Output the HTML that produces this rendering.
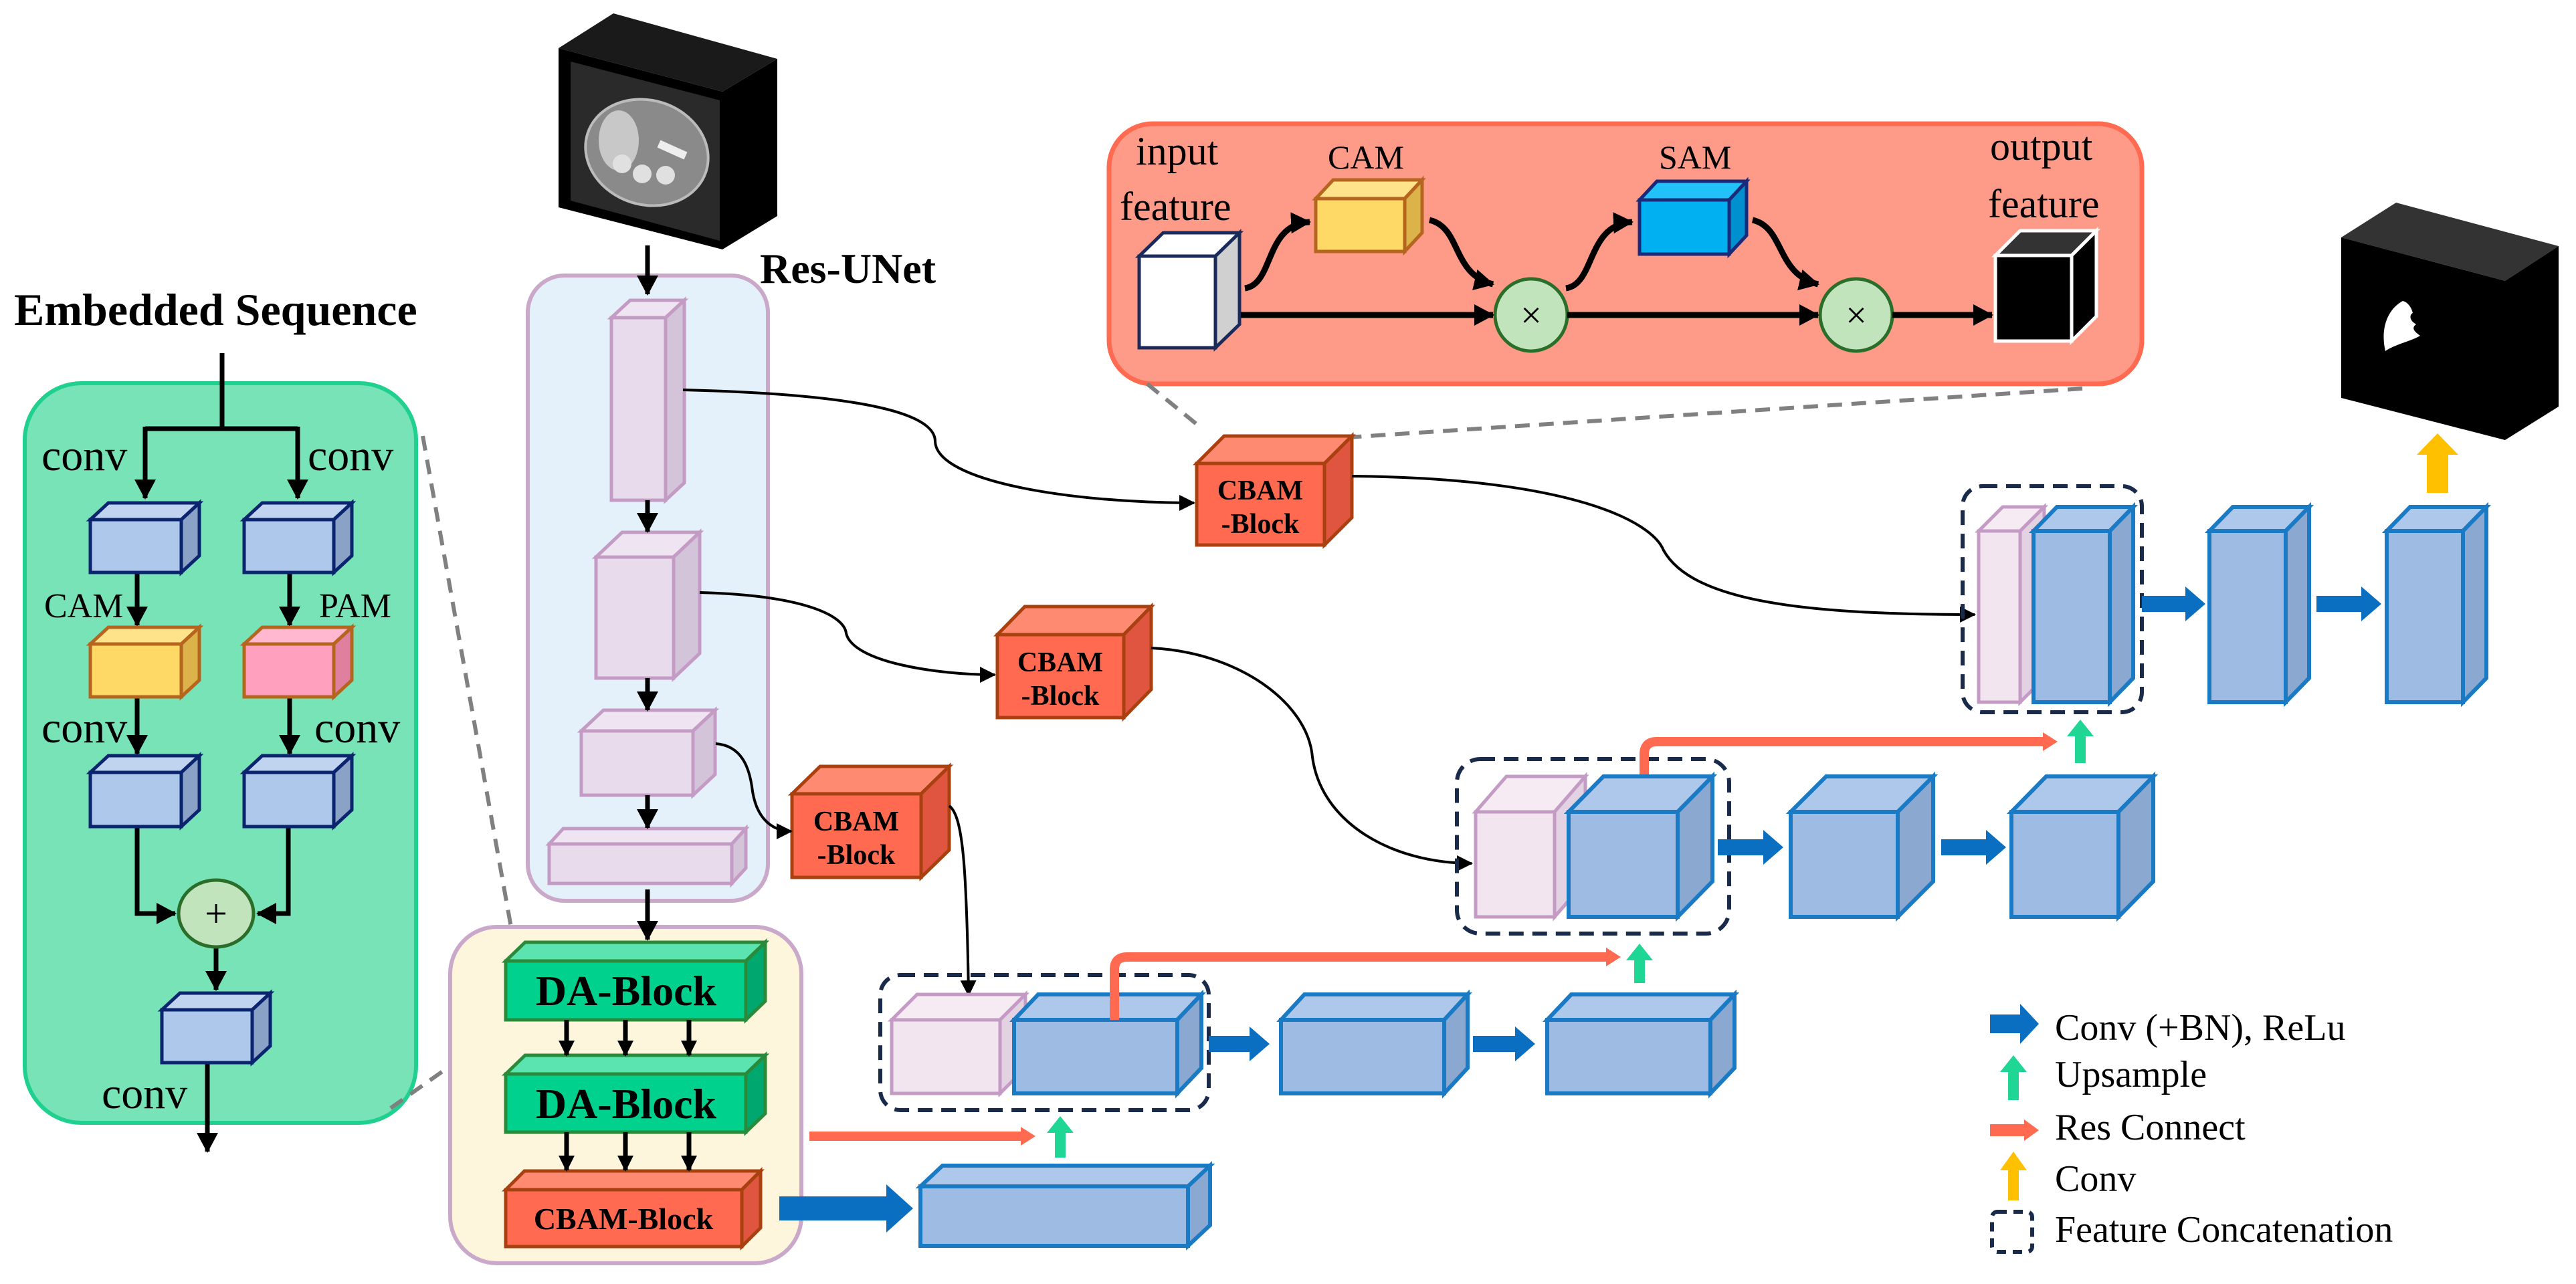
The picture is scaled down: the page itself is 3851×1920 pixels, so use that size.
<!DOCTYPE html>
<html><head><meta charset="utf-8"><style>
html,body{margin:0;padding:0;background:#fff;}
svg{display:block;}
text{font-family:"Liberation Serif",serif;}
.gb .f{fill:#aec8eb}.gb .t{fill:#c0d4f0}.gb .s{fill:#8aa2c6}.gb *{stroke:#0b2470;stroke-width:5;stroke-linejoin:miter}
.yl .f{fill:#ffd966}.yl .t{fill:#ffe38a}.yl .s{fill:#dcb24a}.yl *{stroke:#b5651d;stroke-width:5}
.pk .f{fill:#ffa0bf}.pk .t{fill:#ffb8cf}.pk .s{fill:#e0809f}.pk *{stroke:#b5651d;stroke-width:5}
.en .f{fill:#e8dcec}.en .t{fill:#efe4f2}.en .s{fill:#d4c4da}.en *{stroke:#c39bc4;stroke-width:5}
.da .f{fill:#00d28e}.da .t{fill:#5be3b0}.da .s{fill:#00a870}.da *{stroke:#2a8a3a;stroke-width:5}
.cb .f{fill:#ff6a50}.cb .t{fill:#ff8a72}.cb .s{fill:#e05540}.cb *{stroke:#a84010;stroke-width:5}
.db .f{fill:#9dbbe3}.db .t{fill:#aec8ec}.db .s{fill:#8aa8d0}.db *{stroke:#1a7ac4;stroke-width:6}
.dp .f{fill:#f3e5ef}.dp .t{fill:#f6ebf3}.dp .s{fill:#e2d2e2}.dp *{stroke:#c39bc4;stroke-width:5}
.cc{fill:none;stroke:#1a2a4a;stroke-width:6;stroke-dasharray:22 13}
.bl{fill:none;stroke:#000;stroke-width:4}
.gl{fill:none;stroke:#000;stroke-width:7}
.at{fill:none;stroke:#000;stroke-width:9}
.rd{fill:none;stroke:#ff6a50;stroke-width:14}
.gd{fill:none;stroke:#808080;stroke-width:6;stroke-dasharray:22 14}
</style></head><body>
<svg width="3851" height="1920" viewBox="0 0 3851 1920" xmlns="http://www.w3.org/2000/svg">
<defs>
<marker id="ah" markerUnits="userSpaceOnUse" markerWidth="30" markerHeight="30" refX="22" refY="12" orient="auto"><path d="M0,0 L24,12 L0,24z" fill="#000"/></marker>
<marker id="ahb" markerUnits="userSpaceOnUse" markerWidth="40" markerHeight="40" refX="28" refY="16" orient="auto"><path d="M0,0 L30,16 L0,32z" fill="#000"/></marker>
</defs>

<!-- Embedded sequence panel -->
<text x="21" y="486" font-size="68" font-weight="bold">Embedded Sequence</text>
<rect x="37" y="573" width="585" height="1106" rx="85" fill="#77e3b6" stroke="#1fd08f" stroke-width="6"/>
<path class="gl" d="M332 528 V641"/>
<path class="gl" d="M217 641 H445"/>
<path class="gl" d="M217 638 V745" marker-end="url(#ahb)"/>
<path class="gl" d="M445 638 V745" marker-end="url(#ahb)"/>
<path class="gl" d="M205 856 V935" marker-end="url(#ahb)"/>
<path class="gl" d="M433 856 V935" marker-end="url(#ahb)"/>
<path class="gl" d="M205 1042 V1127" marker-end="url(#ahb)"/>
<path class="gl" d="M433 1042 V1127" marker-end="url(#ahb)"/>
<path class="gl" d="M205 1236 V1366 H262" marker-end="url(#ahb)"/>
<path class="gl" d="M431 1236 V1366 H385" marker-end="url(#ahb)"/>
<path class="gl" d="M323 1416 V1480" marker-end="url(#ahb)"/>
<path class="gl" d="M310 1589 V1722" marker-end="url(#ahb)"/>
<text x="62" y="703" font-size="66">conv</text>
<text x="460" y="703" font-size="66">conv</text>
<text x="66" y="923" font-size="52">CAM</text>
<text x="477" y="923" font-size="52">PAM</text>
<text x="62" y="1110" font-size="66">conv</text>
<text x="470" y="1110" font-size="66">conv</text>
<text x="152" y="1657" font-size="66">conv</text>
<g class="gb"><rect class="f" x="135" y="777" width="136" height="79"/><path class="t" d="M135 777 l27 -25 h136 l-27 25z"/><path class="s" d="M271 777 l27 -25 v79 l-27 25z"/></g>
<g class="gb"><rect class="f" x="365" y="777" width="134" height="79"/><path class="t" d="M365 777 l27 -25 h134 l-27 25z"/><path class="s" d="M499 777 l27 -25 v79 l-27 25z"/></g>
<g class="yl"><rect class="f" x="135" y="963" width="136" height="79"/><path class="t" d="M135 963 l27 -25 h136 l-27 25z"/><path class="s" d="M271 963 l27 -25 v79 l-27 25z"/></g>
<g class="pk"><rect class="f" x="365" y="963" width="134" height="79"/><path class="t" d="M365 963 l27 -25 h134 l-27 25z"/><path class="s" d="M499 963 l27 -25 v79 l-27 25z"/></g>
<g class="gb"><rect class="f" x="135" y="1155" width="136" height="81"/><path class="t" d="M135 1155 l27 -25 h136 l-27 25z"/><path class="s" d="M271 1155 l27 -25 v81 l-27 25z"/></g>
<g class="gb"><rect class="f" x="365" y="1155" width="134" height="81"/><path class="t" d="M365 1155 l27 -25 h134 l-27 25z"/><path class="s" d="M499 1155 l27 -25 v81 l-27 25z"/></g>
<g class="gb"><rect class="f" x="242" y="1510" width="135" height="79"/><path class="t" d="M242 1510 l27 -25 h135 l-27 25z"/><path class="s" d="M377 1510 l27 -25 v79 l-27 25z"/></g>
<ellipse cx="323" cy="1366" rx="56" ry="50" fill="#c2e4bd" stroke="#2a6e2a" stroke-width="5"/>
<text x="323" y="1386" font-size="60" text-anchor="middle">+</text>
<path class="gd" d="M632 652 L767 1403"/>
<path class="gd" d="M584 1657 L759 1533"/>

<!-- CT image -->
<polygon points="835,72 917,20 1162,88 1080,137" fill="#1a1a1a"/>
<polygon points="1080,137 1162,88 1162,323 1080,373" fill="#000"/>
<polygon points="835,72 1080,137 1080,373 835,310" fill="#000"/>
<polygon points="853,92 1076,150 1076,360 853,300" fill="#2a2a2a"/>
<ellipse cx="967" cy="228" rx="93" ry="78" transform="rotate(18 967 228)" fill="#8a8a8a" stroke="#bbb" stroke-width="4"/>
<ellipse cx="925" cy="210" rx="30" ry="45" fill="#c8c8c8"/>
<circle cx="930" cy="245" r="14" fill="#e0e0e0"/><circle cx="960" cy="260" r="14" fill="#e0e0e0"/><circle cx="995" cy="262" r="14" fill="#e0e0e0"/>
<path d="M985 215 l40 18" stroke="#eee" stroke-width="12"/>
<text x="1136" y="423" font-size="64" font-weight="bold">Res-UNet</text>

<!-- Res-UNet encoder -->
<rect x="789" y="412" width="359" height="935" rx="55" fill="#e4f0fa" stroke="#c9a8c9" stroke-width="6"/>
<path class="gl" d="M968 367 V440" marker-end="url(#ahb)"/>
<g class="en"><rect class="f" x="914" y="475" width="81" height="273"/><path class="t" d="M914 475 l28 -26 h81 l-28 26z"/><path class="s" d="M995 475 l28 -26 v273 l-28 26z"/></g>
<g class="en"><rect class="f" x="891" y="833" width="116" height="181"/><path class="t" d="M891 833 l39 -37 h116 l-39 37z"/><path class="s" d="M1007 833 l39 -37 v181 l-39 37z"/></g>
<g class="en"><rect class="f" x="869" y="1093" width="167" height="96"/><path class="t" d="M869 1093 l33 -31 h167 l-33 31z"/><path class="s" d="M1036 1093 l33 -31 v96 l-33 31z"/></g>
<g class="en"><rect class="f" x="821" y="1262" width="273" height="59"/><path class="t" d="M821 1262 l21 -23 h273 l-21 23z"/><path class="s" d="M1094 1262 l21 -23 v59 l-21 23z"/></g>
<path class="gl" d="M968 748 V795" marker-end="url(#ahb)"/>
<path class="gl" d="M968 1014 V1062" marker-end="url(#ahb)"/>
<path class="gl" d="M968 1189 V1238" marker-end="url(#ahb)"/>

<!-- DA container -->
<rect x="673" y="1386" width="525" height="503" rx="70" fill="#fdf6dc" stroke="#c9a8c9" stroke-width="6"/>
<path class="gl" d="M968 1330 V1405" marker-end="url(#ahb)"/>
<g class="da"><rect class="f" x="756" y="1437" width="359" height="88"/><path class="t" d="M756 1437 l29 -28 h359 l-29 28z"/><path class="s" d="M1115 1437 l29 -28 v88 l-29 28z"/></g>
<g class="da"><rect class="f" x="756" y="1606" width="359" height="87"/><path class="t" d="M756 1606 l29 -28 h359 l-29 28z"/><path class="s" d="M1115 1606 l29 -28 v87 l-29 28z"/></g>
<g class="cb"><rect class="f" x="756" y="1779" width="353" height="85"/><path class="t" d="M756 1779 l28 -28 h353 l-28 28z"/><path class="s" d="M1109 1779 l28 -28 v85 l-28 28z"/></g>
<text x="936" y="1503" font-size="64" font-weight="bold" text-anchor="middle">DA-Block</text>
<text x="936" y="1672" font-size="64" font-weight="bold" text-anchor="middle">DA-Block</text>
<text x="932" y="1838" font-size="46" font-weight="bold" text-anchor="middle">CBAM-Block</text>
<path class="gl" d="M847 1525 V1578" marker-end="url(#ah)"/>
<path class="gl" d="M935 1525 V1578" marker-end="url(#ah)"/>
<path class="gl" d="M1030 1525 V1578" marker-end="url(#ah)"/>
<path class="gl" d="M847 1693 V1750" marker-end="url(#ah)"/>
<path class="gl" d="M935 1693 V1750" marker-end="url(#ah)"/>
<path class="gl" d="M1030 1693 V1750" marker-end="url(#ah)"/>

<!-- CBAM attention panel -->
<rect x="1658" y="185" width="1544" height="389" rx="65" fill="#fd9a88" stroke="#ff6a50" stroke-width="7"/>
<text x="1698" y="246" font-size="60">input</text>
<text x="1674" y="329" font-size="60">feature</text>
<text x="1985" y="252" font-size="50">CAM</text>
<text x="2480" y="252" font-size="50">SAM</text>
<text x="2975" y="239" font-size="60">output</text>
<text x="2972" y="325" font-size="60">feature</text>
<g><rect x="1703" y="383" width="114" height="137" fill="#fff" stroke="#1a2a5a" stroke-width="5"/><path d="M1703 383 l36 -35 h114 l-36 35z" fill="#fff" stroke="#1a2a5a" stroke-width="5"/><path d="M1817 383 l36 -35 v137 l-36 35z" fill="#d0d0d0" stroke="#1a2a5a" stroke-width="5"/></g>
<g class="yl"><rect class="f" x="1967" y="297" width="133" height="79"/><path class="t" d="M1967 297 l26 -28 h133 l-26 28z"/><path class="s" d="M2100 297 l26 -28 v79 l-26 28z"/></g>
<g><rect x="2451" y="299" width="134" height="81" fill="#00b0f0" stroke="#1a2a7a" stroke-width="5"/><path d="M2451 299 l26 -28 h134 l-26 28z" fill="#22c2f8" stroke="#1a2a7a" stroke-width="5"/><path d="M2585 299 l26 -28 v81 l-26 28z" fill="#0090d0" stroke="#1a2a7a" stroke-width="5"/></g>
<g><rect x="2983" y="382" width="114" height="128" fill="#000" stroke="#fff" stroke-width="5"/><path d="M2983 382 l37 -37 h114 l-37 37z" fill="#333" stroke="#fff" stroke-width="5"/><path d="M3097 382 l37 -37 v128 l-37 37z" fill="#000" stroke="#fff" stroke-width="5"/></g>
<ellipse cx="2289" cy="471" rx="54" ry="54" fill="#c2e4bd" stroke="#2a6e2a" stroke-width="5"/>
<ellipse cx="2775" cy="471" rx="54" ry="54" fill="#c2e4bd" stroke="#2a6e2a" stroke-width="5"/>
<text x="2289" y="490" font-size="56" font-family="Liberation Sans" text-anchor="middle">×</text>
<text x="2775" y="490" font-size="56" font-family="Liberation Sans" text-anchor="middle">×</text>
<path class="at" d="M1855 471 H2232" marker-end="url(#ahb)"/>
<path class="at" d="M2343 471 H2718" marker-end="url(#ahb)"/>
<path class="at" d="M2829 471 H2978" marker-end="url(#ahb)"/>
<path class="at" d="M1861 431 C1905 425 1890 335 1958 332" marker-end="url(#ahb)"/>
<path class="at" d="M2137 329 C2185 340 2170 410 2232 425" marker-end="url(#ahb)"/>
<path class="at" d="M2341 431 C2385 425 2372 335 2440 332" marker-end="url(#ahb)"/>
<path class="at" d="M2620 329 C2668 340 2655 410 2718 425" marker-end="url(#ahb)"/>
<path class="gd" d="M1715 574 L1796 640"/>
<path class="gd" d="M3113 581 L2015 654"/>

<!-- CBAM blocks -->
<g class="cb"><rect class="f" x="1789" y="693" width="191" height="122"/><path class="t" d="M1789 693 l41 -41 h191 l-41 41z"/><path class="s" d="M1980 693 l41 -41 v122 l-41 41z"/></g>
<g class="cb"><rect class="f" x="1491" y="949" width="189" height="124"/><path class="t" d="M1491 949 l41 -42 h189 l-41 42z"/><path class="s" d="M1680 949 l41 -42 v124 l-41 42z"/></g>
<g class="cb"><rect class="f" x="1184" y="1187" width="193" height="125"/><path class="t" d="M1184 1187 l42 -41 h193 l-42 41z"/><path class="s" d="M1377 1187 l42 -41 v125 l-42 41z"/></g>
<text x="1884" y="747" font-size="42" font-weight="bold" text-anchor="middle">CBAM</text>
<text x="1884" y="797" font-size="42" font-weight="bold" text-anchor="middle">-Block</text>
<text x="1585" y="1004" font-size="42" font-weight="bold" text-anchor="middle">CBAM</text>
<text x="1585" y="1054" font-size="42" font-weight="bold" text-anchor="middle">-Block</text>
<text x="1280" y="1242" font-size="42" font-weight="bold" text-anchor="middle">CBAM</text>
<text x="1280" y="1292" font-size="42" font-weight="bold" text-anchor="middle">-Block</text>

<!-- connectors -->
<path class="bl" d="M1021 583 C1300 590 1398 620 1398 660 C1400 720 1600 752 1785 752" marker-end="url(#ah)"/>
<path class="bl" d="M2021 712 C2350 715 2470 780 2487 823 C2530 900 2700 919 2952 919" marker-end="url(#ah)"/>
<path class="bl" d="M1046 886 C1200 890 1262 920 1265 947 C1275 990 1400 1009 1487 1009" marker-end="url(#ah)"/>
<path class="bl" d="M1721 969 C1850 975 1955 1050 1962 1132 C1975 1230 2080 1291 2200 1291" marker-end="url(#ah)"/>
<path class="bl" d="M1070 1112 C1110 1115 1120 1150 1124 1176 C1130 1230 1160 1243 1183 1243" marker-end="url(#ah)"/>
<path class="bl" d="M1419 1205 C1440 1220 1445 1300 1448 1488" marker-end="url(#ah)"/>

<!-- decoder top -->
<rect class="cc" x="2934" y="727" width="268" height="338" rx="30"/>
<g class="dp"><rect class="f" x="2958" y="794" width="62" height="256"/><path class="t" d="M2958 794 l36 -36 h62 l-36 36z"/><path class="s" d="M3020 794 l36 -36 v256 l-36 36z"/></g>
<g class="db"><rect class="f" x="3040" y="794" width="114" height="256"/><path class="t" d="M3040 794 l35 -36 h114 l-35 36z"/><path class="s" d="M3154 794 l35 -36 v256 l-35 36z"/></g>
<g class="db"><rect class="f" x="3303" y="794" width="114" height="256"/><path class="t" d="M3303 794 l35 -36 h114 l-35 36z"/><path class="s" d="M3417 794 l35 -36 v256 l-35 36z"/></g>
<g class="db"><rect class="f" x="3568" y="794" width="114" height="256"/><path class="t" d="M3568 794 l35 -36 h114 l-35 36z"/><path class="s" d="M3682 794 l35 -36 v256 l-35 36z"/></g>
<polygon fill="#0a6fc0" points="3202,891 3267,891 3267,877 3297,903 3267,929 3267,915 3202,915"/>
<polygon fill="#0a6fc0" points="3463,891 3530,891 3530,877 3560,903 3530,929 3530,915 3463,915"/>

<!-- output mask -->
<polygon points="3500,355 3582,303 3825,368 3745,420" fill="#333"/>
<polygon points="3745,420 3825,368 3825,608 3745,658" fill="#000"/>
<polygon points="3500,355 3745,420 3745,658 3500,595" fill="#000"/>
<path d="M3592 450 C3570 462 3558 490 3566 525 C3580 515 3605 510 3618 502 C3608 495 3605 490 3612 485 C3600 478 3603 470 3607 468 C3605 460 3600 452 3592 450z" fill="#fff"/>
<polygon fill="#ffc000" points="3628,737 3628,680 3613,680 3644,648 3675,680 3660,680 3660,737"/>

<!-- decoder middle -->
<rect class="cc" x="2178" y="1135" width="407" height="261" rx="35"/>
<g class="dp"><rect class="f" x="2206" y="1214" width="118" height="157"/><path class="t" d="M2206 1214 l46 -53 h118 l-46 53z"/><path class="s" d="M2324 1214 l46 -53 v157 l-46 53z"/></g>
<g class="db"><rect class="f" x="2345" y="1214" width="163" height="157"/><path class="t" d="M2345 1214 l52 -53 h163 l-52 53z"/><path class="s" d="M2508 1214 l52 -53 v157 l-52 53z"/></g>
<g class="db"><rect class="f" x="2677" y="1214" width="160" height="157"/><path class="t" d="M2677 1214 l53 -53 h160 l-53 53z"/><path class="s" d="M2837 1214 l53 -53 v157 l-53 53z"/></g>
<g class="db"><rect class="f" x="3007" y="1214" width="160" height="157"/><path class="t" d="M3007 1214 l52 -53 h160 l-52 53z"/><path class="s" d="M3167 1214 l52 -53 v157 l-52 53z"/></g>
<polygon fill="#0a6fc0" points="2568,1255 2636,1255 2636,1241 2666,1267 2636,1293 2636,1279 2568,1279"/>
<polygon fill="#0a6fc0" points="2902,1255 2969,1255 2969,1241 2999,1267 2969,1293 2969,1279 2902,1279"/>

<!-- decoder bottom -->
<rect class="cc" x="1316" y="1458" width="491" height="202" rx="30"/>
<g class="dp"><rect class="f" x="1333" y="1525" width="162" height="110"/><path class="t" d="M1333 1525 l38 -38 h162 l-38 38z"/><path class="s" d="M1495 1525 l38 -38 v110 l-38 38z"/></g>
<g class="db"><rect class="f" x="1516" y="1525" width="244" height="110"/><path class="t" d="M1516 1525 l36 -38 h244 l-36 38z"/><path class="s" d="M1760 1525 l36 -38 v110 l-36 38z"/></g>
<g class="db"><rect class="f" x="1915" y="1525" width="244" height="110"/><path class="t" d="M1915 1525 l35 -38 h244 l-35 38z"/><path class="s" d="M2159 1525 l35 -38 v110 l-35 38z"/></g>
<g class="db"><rect class="f" x="2313" y="1525" width="244" height="110"/><path class="t" d="M2313 1525 l36 -38 h244 l-36 38z"/><path class="s" d="M2557 1525 l36 -38 v110 l-36 38z"/></g>
<polygon fill="#0a6fc0" points="1807,1549 1868,1549 1868,1535 1898,1561 1868,1587 1868,1573 1807,1573"/>
<polygon fill="#0a6fc0" points="2202,1549 2265,1549 2265,1535 2295,1561 2265,1587 2265,1573 2202,1573"/>
<g class="db"><rect class="f" x="1376" y="1774" width="400" height="89"/><path class="t" d="M1376 1774 l33 -31 h400 l-33 31z"/><path class="s" d="M1776 1774 l33 -31 v89 l-33 31z"/></g>
<polygon fill="#0a6fc0" points="1165,1789 1325,1789 1325,1771 1365,1807 1325,1843 1325,1825 1165,1825"/>

<!-- res connects & upsamples -->
<path class="rd" d="M1210 1699 H1530"/><polygon fill="#ff6a50" points="1526,1685 1548,1699 1526,1713"/>
<path class="rd" d="M1666 1525 V1450 Q1666 1431 1685 1431 H2405"/><polygon fill="#ff6a50" points="2401,1417 2423,1431 2401,1445"/>
<path class="rd" d="M2458 1158 V1128 Q2458 1109 2477 1109 H3058"/><polygon fill="#ff6a50" points="3054,1095 3076,1109 3054,1123"/>
<polygon fill="#1fd695" points="1577,1731 1577,1694 1565,1694 1585,1669 1605,1694 1593,1694 1593,1731"/>
<polygon fill="#1fd695" points="2443,1470 2443,1436 2431,1436 2451,1411 2471,1436 2459,1436 2459,1470"/>
<polygon fill="#1fd695" points="3102,1141 3102,1101 3090,1101 3110,1076 3130,1101 3118,1101 3118,1141"/>

<!-- legend -->
<polygon fill="#0a6fc0" points="2975,1517 3020,1517 3020,1501 3048,1531 3020,1561 3020,1545 2975,1545"/>
<polygon fill="#1fd695" points="3002,1645 3002,1603 2990,1603 3010,1578 3030,1603 3018,1603 3018,1645"/>
<path d="M2975 1690 H3030" stroke="#ff6a50" stroke-width="18"/><polygon fill="#ff6a50" points="3026,1674 3048,1690 3026,1706"/>
<polygon fill="#ffc000" points="3002,1795 3002,1750 2990,1750 3010,1722 3030,1750 3018,1750 3018,1795"/>
<rect class="cc" x="2978" y="1812" width="60" height="60" rx="8" style="stroke-dasharray:14 10"/>
<text x="3072" y="1555" font-size="56">Conv (+BN), ReLu</text>
<text x="3072" y="1625" font-size="56">Upsample</text>
<text x="3072" y="1704" font-size="56">Res Connect</text>
<text x="3072" y="1781" font-size="56">Conv</text>
<text x="3072" y="1857" font-size="56">Feature Concatenation</text>
</svg>
</body></html>
